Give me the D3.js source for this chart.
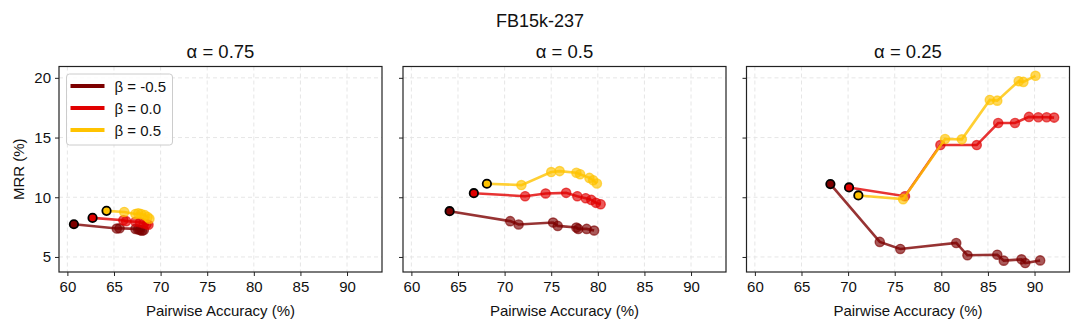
<!DOCTYPE html>
<html lang="en">
<head>
<meta charset="utf-8">
<title>FB15k-237</title>
<script src="https://cdn.jsdelivr.net/npm/d3@7"></script>
<style>
  body { margin: 0; background: #fff; }
  text { font-family: "Liberation Sans", Arial, sans-serif; fill: #111; }
</style>
</head>
<body>
<script>
// panels (alpha values) and series (beta values)
var alphas = ["0.75", "0.5", "0.25"];
var betas = ["-0.5", "0.0", "0.5"];
var colors = ["#7d0000", "#e10000", "#ffc300"];
var xTicks = [60, 65, 70, 75, 80, 85, 90];
var yTicks = [5, 10, 15, 20];

// pairwise accuracy (%) per panel, per beta
var acc = [
  [ [60.7, 65.3, 65.6, 67.3, 67.6, 67.8, 68.0, 68.2],
    [62.7, 66.0, 66.3, 67.3, 67.8, 68.2, 68.5, 68.7],
    [64.2, 66.1, 67.3, 67.6, 67.9, 68.3, 68.6, 68.8] ],
  [ [64.1, 70.6, 71.5, 75.2, 75.7, 77.7, 77.9, 78.8, 79.6],
    [66.7, 72.2, 74.4, 76.6, 77.8, 78.7, 79.3, 79.8, 80.3],
    [68.1, 71.8, 75.0, 75.9, 77.7, 78.1, 79.1, 79.5, 79.9] ],
  [ [68.1, 73.4, 75.6, 81.6, 82.8, 86.0, 86.7, 88.6, 89.0, 90.6],
    [70.1, 76.1, 79.9, 83.8, 86.1, 87.9, 89.4, 90.4, 91.3, 92.1],
    [71.1, 75.9, 80.4, 82.2, 85.2, 86.0, 88.3, 88.8, 90.1] ]
];
// MRR (%) per panel, per beta
var mrr = [
  [ [7.74, 7.38, 7.4, 7.35, 7.3, 7.25, 7.2, 7.25],
    [8.27, 8.08, 8.0, 7.95, 7.9, 7.8, 7.75, 7.7],
    [8.86, 8.77, 8.6, 8.65, 8.6, 8.5, 8.35, 8.2] ],
  [ [8.83, 8.0, 7.72, 7.88, 7.6, 7.46, 7.35, 7.35, 7.21],
    [10.34, 10.09, 10.32, 10.37, 10.09, 9.92, 9.78, 9.53, 9.42],
    [11.13, 11.02, 12.11, 12.19, 12.05, 11.93, 11.62, 11.43, 11.15] ],
  [ [11.1, 6.26, 5.67, 6.17, 5.14, 5.19, 4.69, 4.8, 4.49, 4.71],
    [10.82, 10.09, 14.37, 14.37, 16.22, 16.22, 16.73, 16.7, 16.7, 16.67],
    [10.15, 9.84, 14.88, 14.85, 18.15, 18.09, 19.72, 19.66, 20.17] ]
];

var W = 1080, H = 329;
var panelLeft = [59, 403, 746.5], panelW = 323;
var plotTop = 66.5, plotBottom = 272;

var svg = d3.select("body").append("svg")
  .attr("width", W).attr("height", H);

svg.append("text").attr("x", 540).attr("y", 26.5)
  .attr("text-anchor", "middle").style("font-size", "18px").text("FB15k-237");

var y = d3.scaleLinear().domain([3.74, 20.95]).range([plotBottom, plotTop]);

alphas.forEach(function(a, p) {
  var x = d3.scaleLinear().domain([59.1, 93.75]).range([panelLeft[p], panelLeft[p] + panelW]);
  var g = svg.append("g");

  // grid
  g.selectAll(".gx").data(xTicks).enter().append("line")
    .attr("x1", function(d) { return x(d); }).attr("x2", function(d) { return x(d); })
    .attr("y1", plotTop).attr("y2", plotBottom)
    .attr("stroke", "#e3e3e3").attr("stroke-dasharray", "4,3").attr("stroke-width", 0.9);
  g.selectAll(".gy").data(yTicks).enter().append("line")
    .attr("y1", function(d) { return y(d); }).attr("y2", function(d) { return y(d); })
    .attr("x1", panelLeft[p]).attr("x2", panelLeft[p] + panelW)
    .attr("stroke", "#e3e3e3").attr("stroke-dasharray", "4,3").attr("stroke-width", 0.9);

  // axes
  var xa = g.append("g").attr("transform", "translate(0," + plotBottom + ")")
    .call(d3.axisBottom(x).tickValues(xTicks).tickSize(4).tickPadding(5));
  var ya = g.append("g").attr("transform", "translate(" + panelLeft[p] + ",0)")
    .call(d3.axisLeft(y).tickValues(yTicks).tickSize(4).tickPadding(4)
      .tickFormat(p === 0 ? d3.format("d") : function() { return ""; }));
  [xa, ya].forEach(function(ax) {
    ax.select(".domain").remove();
    ax.selectAll("text").style("font-size", "15px").style("font-family", "Liberation Sans, Arial, sans-serif").attr("fill", "#111");
    ax.selectAll("line").attr("stroke", "#222");
  });

  g.append("rect").attr("x", panelLeft[p]).attr("y", plotTop)
    .attr("width", panelW).attr("height", plotBottom - plotTop)
    .attr("fill", "none").attr("stroke", "#222").attr("stroke-width", 1.2);

  g.append("text").attr("x", panelLeft[p] + panelW / 2).attr("y", 58)
    .attr("text-anchor", "middle").style("font-size", "18.5px").text("\u03b1 = " + a);

  g.append("text").attr("x", panelLeft[p] + panelW / 2).attr("y", 316)
    .attr("text-anchor", "middle").style("font-size", "15px").text("Pairwise Accuracy (%)");

  var line = d3.line().x(function(d) { return x(d[0]); }).y(function(d) { return y(d[1]); });

  betas.forEach(function(b, s) {
    var pts = acc[p][s].map(function(v, i) { return [v, mrr[p][s][i]]; });
    g.append("path").datum(pts).attr("d", line)
      .attr("fill", "none").attr("stroke", colors[s]).attr("stroke-width", 2.6)
      .attr("stroke-opacity", 0.8);
    g.selectAll(".m" + s).data(pts.slice(1)).enter().append("circle")
      .attr("cx", function(d) { return x(d[0]); }).attr("cy", function(d) { return y(d[1]); })
      .attr("r", 4.6).attr("fill", colors[s]).attr("fill-opacity", 0.65)
      .attr("stroke", colors[s]).attr("stroke-opacity", 0.65).attr("stroke-width", 1.4);
    g.append("circle").datum(pts[0])
      .attr("cx", function(d) { return x(d[0]); }).attr("cy", function(d) { return y(d[1]); })
      .attr("r", 4.2).attr("fill", colors[s]).attr("stroke", "#000").attr("stroke-width", 1.8);
  });
});

svg.append("text").attr("transform", "translate(24," + ((plotTop + plotBottom) / 2) + ") rotate(-90)")
  .attr("text-anchor", "middle").style("font-size", "15px").text("MRR (%)");

// legend
var lg = svg.append("g").attr("transform", "translate(66.5,74)");
lg.append("rect").attr("width", 106).attr("height", 71).attr("rx", 3)
  .attr("fill", "#fff").attr("fill-opacity", 0.85).attr("stroke", "#ccc");
betas.forEach(function(b, s) {
  lg.append("line").attr("x1", 4).attr("x2", 38)
    .attr("y1", 12 + s * 22).attr("y2", 12 + s * 22)
    .attr("stroke", colors[s]).attr("stroke-width", 4);
  lg.append("text").attr("x", 48).attr("y", 17.5 + s * 22)
    .style("font-size", "15px").text("\u03b2 = " + b);
});
</script>
</body>
</html>
